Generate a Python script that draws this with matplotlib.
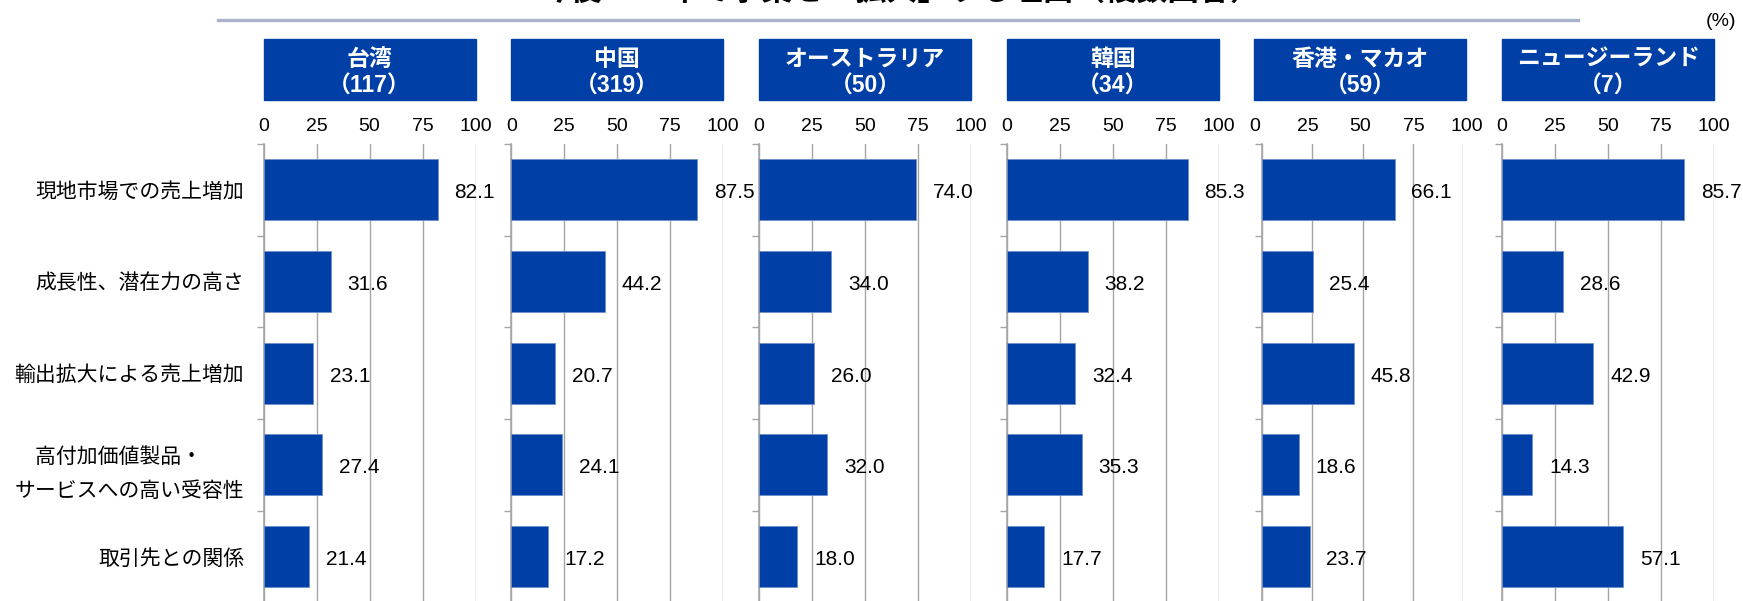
import matplotlib.pyplot as plt
from matplotlib.patches import Rectangle

plt.rcParams['font.family'] = ['Liberation Sans', 'Noto Sans CJK JP', 'DejaVu Sans']

# data (%)
reasons = ['現地市場での売上増加', '成長性、潜在力の高さ', '輸出拡大による売上増加',
           '高付加価値製品・\u3000\nサービスへの高い受容性', '取引先との関係']
regions = ['台湾', '中国', 'オーストラリア', '韓国', '香港・マカオ', 'ニュージーランド']
counts = [117, 319, 50, 34, 59, 7]

taiwan = [82.1, 31.6, 23.1, 27.4, 21.4]
china = [87.5, 44.2, 20.7, 24.1, 17.2]
australia = [74.0, 34.0, 26.0, 32.0, 18.0]
korea = [85.3, 38.2, 32.4, 35.3, 17.7]
hongkong = [66.1, 25.4, 45.8, 18.6, 23.7]
newzealand = [85.7, 28.6, 42.9, 14.3, 57.1]
series = [taiwan, china, australia, korea, hongkong, newzealand]

ticks = [0, 25, 50, 75, 100]

W, H = 1743, 601
blue = '#003FA5'
grey = '#A6A6A6'

fig = plt.figure(figsize=(W / 100, H / 100), dpi=100)

# pixel layout (panel slots; the HK plot area is a bit narrower in the original)
x0 = 263.6
ax_w = 212.0
pitch = 247.7
top = 144
cat_h = 91.7
plot_shift = [0, 0, 0, 0, 7.6, 0]
plot_w = [212, 212, 212, 212, 201, 212]

for k, vals in enumerate(series):
    left = x0 + k * pitch
    bottom = 1 - (top + 5 * cat_h) / H
    height = 5 * cat_h / H

    # tick-label axes on the panel slot
    tax = fig.add_axes([left / W, bottom, ax_w / W, height])
    tax.set_xlim(0, 100)
    tax.set_xticks(ticks)
    tax.set_xticklabels([str(t) for t in ticks])
    tax.tick_params(axis='x', top=True, labeltop=True, bottom=False, labelbottom=False,
                    length=0, pad=6.5, labelsize=14)
    tax.set_yticks([])
    tax.patch.set_visible(False)
    for s in tax.spines.values():
        s.set_visible(False)

    # data axes
    ax = fig.add_axes([(left + plot_shift[k]) / W, bottom, plot_w[k] / W, height])
    ypos = list(range(len(reasons)))
    ax.barh(ypos, vals, height=0.665, color=blue, edgecolor='#6F8FCB', linewidth=0.6, zorder=3)
    for y, v in zip(ypos, vals):
        ax.text(v + 8, y + 0.03, f'{v:.1f}', ha='left', va='center', fontsize=15,
                color='black', clip_on=False, zorder=4)
    ax.set_xlim(0, 100)
    ax.set_ylim(len(reasons) - 0.5, -0.5)
    ax.set_xticks(ticks)
    ax.tick_params(axis='x', bottom=False, labelbottom=False, length=0)
    ax.set_yticks(ypos)
    if k == 0:
        ax.set_yticklabels(reasons, fontsize=15, linespacing=1.9, multialignment='center')
    else:
        ax.set_yticklabels([])
    ax.tick_params(axis='y', length=0, pad=14)
    ax.set_yticks([i - 0.5 for i in range(len(reasons) + 1)], minor=True)
    ax.tick_params(axis='y', which='minor', length=5, width=1, color=grey, direction='out')
    ax.grid(axis='x', color=grey, linewidth=1, zorder=0)
    for s in ['top', 'right', 'bottom']:
        ax.spines[s].set_visible(False)
    ax.spines['left'].set_color(grey)
    ax.spines['left'].set_linewidth(1.2)

    # header box
    fig.add_artist(Rectangle((left / W, 1 - 100 / H), ax_w / W, 61 / H,
                             transform=fig.transFigure, color=blue, zorder=1))
    cx = (left + ax_w / 2) / W
    fig.text(cx, 1 - 59 / H, regions[k], ha='center', va='center', color='white',
             fontsize=16.5, fontweight='bold', zorder=2)
    fig.text(cx, 1 - 86 / H, f'（{counts[k]}）', ha='center', va='center', color='white',
             fontsize=16.5, fontweight='bold', zorder=2)

# title (cut off at the top edge) and rule under it
fig.text(900 / W, 1 + 7 / H, '今後1～2年で事業を「拡大」する理由（複数回答）', ha='center', va='center',
         fontsize=22.5, fontweight='bold')
fig.add_artist(plt.Line2D([218 / W, 1578 / W], [1 - 20 / H, 1 - 20 / H],
                          transform=fig.transFigure, color='#A9B4CA', linewidth=2.4))
fig.text(1736 / W, 1 - 21 / H, '(%)', ha='right', va='center', fontsize=14)

plt.savefig('out.png', dpi=100)
